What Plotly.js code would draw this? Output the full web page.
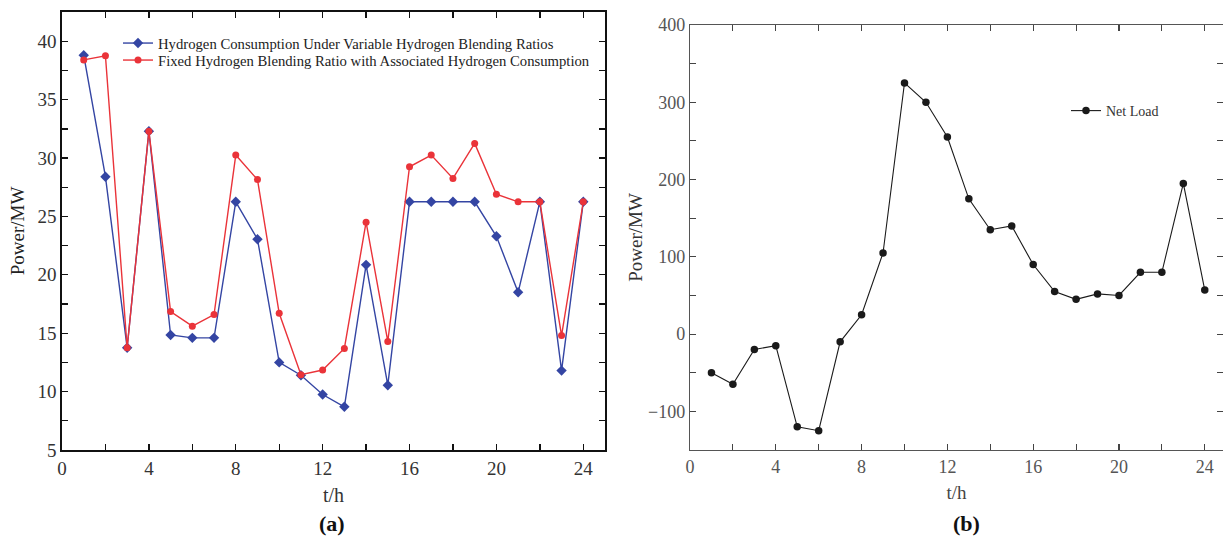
<!DOCTYPE html>
<html>
<head>
<meta charset="utf-8">
<script src="https://cdn.plot.ly/plotly-3.0.1.min.js"></script>
<style>html,body{margin:0;padding:0;background:#fff}#chart{width:1223px;height:542px}</style>
</head>
<body>
<div id="chart"></div>
<script>
// Hours
const hours = [1,2,3,4,5,6,7,8,9,10,11,12,13,14,15,16,17,18,19,20,21,22,23,24];
// (a) Hydrogen consumption, MW
const variableBlend = [38.8,28.4,13.75,32.3,14.85,14.6,14.6,26.25,23.05,12.5,11.4,9.75,8.7,20.85,10.55,26.25,26.25,26.25,26.25,23.3,18.5,26.25,11.8,26.25];
const fixedBlend = [38.4,38.75,13.75,32.3,16.85,15.6,16.6,30.25,28.15,16.7,11.45,11.85,13.7,24.5,14.3,29.25,30.25,28.25,31.25,26.9,26.25,26.25,14.8,26.25];
// (b) Net load, MW
const netLoad = [-50,-65,-20,-15,-120,-125,-10,25,105,325,300,255,175,135,140,90,55,45,52,50,80,80,195,57];
// Tick values
const xTicks = [0,4,8,12,16,20,24];
const yTicksA = [5,10,15,20,25,30,35,40];
const yTicksB = [-100,0,100,200,300,400];
const yTickTextB = ['\u2212100','0','100','200','300','400'];

const serif = 'Liberation Serif, Times New Roman, serif';

const traces = [
  {x: hours, y: variableBlend, xaxis: 'x', yaxis: 'y', type: 'scatter', mode: 'lines+markers',
   name: 'Hydrogen Consumption Under Variable Hydrogen Blending Ratios', legend: 'legend',
   line: {color: '#3445a3', width: 1.4}, marker: {symbol: 'diamond', size: 8, color: '#3445a3'}},
  {x: hours, y: fixedBlend, xaxis: 'x', yaxis: 'y', type: 'scatter', mode: 'lines+markers',
   name: 'Fixed Hydrogen Blending Ratio with Associated Hydrogen Consumption', legend: 'legend3',
   line: {color: '#ea3339', width: 1.4}, marker: {symbol: 'circle', size: 7, color: '#ea3339'}},
  {x: hours, y: netLoad, xaxis: 'x2', yaxis: 'y2', type: 'scatter', mode: 'lines+markers',
   name: 'Net Load', legend: 'legend2',
   line: {color: '#1a1a1a', width: 1.1}, marker: {symbol: 'circle', size: 7.5, color: '#1a1a1a'}}
];

const axA = {
  showgrid: false, zeroline: false, showline: true, linecolor: '#111', linewidth: 1.8, mirror: 'allticks',
  ticks: 'inside', ticklen: 6, tickcolor: '#111', tickwidth: 1.4,
  tickfont: {family: serif, size: 19, color: '#333'}
};
const axB = {
  showgrid: false, zeroline: false, showline: true, linecolor: '#555', linewidth: 1.2, mirror: 'allticks',
  ticks: 'inside', ticklen: 6, tickcolor: '#444', tickwidth: 1.1,
  tickfont: {family: serif, size: 18, color: '#555'}
};

const legFont = {family: serif, size: 14.7, color: '#222'};

const layout = {
  width: 1223, height: 542,
  margin: {l: 0, r: 0, t: 0, b: 0},
  paper_bgcolor: '#fff', plot_bgcolor: '#fff',
  showlegend: true,
  xaxis: Object.assign({}, axA, {domain: [62/1223, 605/1223], range: [0, 25], tickvals: xTicks,
    minor: {dtick: 2, ticks: 'inside', ticklen: 6, tickcolor: '#111', tickwidth: 1.4},
    title: {text: 't/h', standoff: 10, font: {family: serif, size: 20, color: '#333'}}, anchor: 'y'}),
  yaxis: Object.assign({}, axA, {domain: [1-450/542, 1-12/542], range: [5, 42.5], tickvals: yTicksA,
    minor: {dtick: 2.5, ticks: 'inside', ticklen: 6, tickcolor: '#111', tickwidth: 1.4},
    title: {text: 'Power/MW', standoff: 8, font: {family: serif, size: 19, color: '#222'}}, anchor: 'x'}),
  xaxis2: Object.assign({}, axB, {domain: [690/1223, 1], range: [0, 24.85], tickvals: xTicks,
    minor: {dtick: 2, ticks: 'inside', ticklen: 6, tickcolor: '#444', tickwidth: 1.1},
    title: {text: 't/h', standoff: 10, font: {family: serif, size: 19, color: '#444'}}, anchor: 'y2'}),
  yaxis2: Object.assign({}, axB, {domain: [1-450/542, 1-25/542], range: [-150, 400], tickvals: yTicksB,
    ticktext: yTickTextB,
    minor: {dtick: 50, ticks: 'inside', ticklen: 6, tickcolor: '#444', tickwidth: 1.1},
    title: {text: 'Power/MW', font: {family: serif, size: 19, color: '#333'}}, anchor: 'x2'}),
  legend: {x: 118/1223, y: 1-27/542, xanchor: 'left', yanchor: 'top', bgcolor: 'rgba(0,0,0,0)',
    font: legFont, itemwidth: 30},
  legend3: {x: 118/1223, y: 1-44/542, xanchor: 'left', yanchor: 'top', bgcolor: 'rgba(0,0,0,0)',
    font: legFont, itemwidth: 30},
  legend2: {x: 1066/1223, y: 1-95/542, xanchor: 'left', yanchor: 'top', bgcolor: 'rgba(0,0,0,0)',
    font: {family: serif, size: 14, color: '#333'}, itemwidth: 30},
  annotations: [
    {text: '<b>(a)</b>', x: 332/1223, y: 1-523/542, xref: 'paper', yref: 'paper', showarrow: false,
     xanchor: 'center', yanchor: 'middle', font: {family: serif, size: 22, color: '#111'}},
    {text: '<b>(b)</b>', x: 966/1223, y: 1-523/542, xref: 'paper', yref: 'paper', showarrow: false,
     xanchor: 'center', yanchor: 'middle', font: {family: serif, size: 22, color: '#111'}}
  ]
};

Plotly.newPlot('chart', traces, layout, {displayModeBar: false, staticPlot: true});
</script>
</body>
</html>
